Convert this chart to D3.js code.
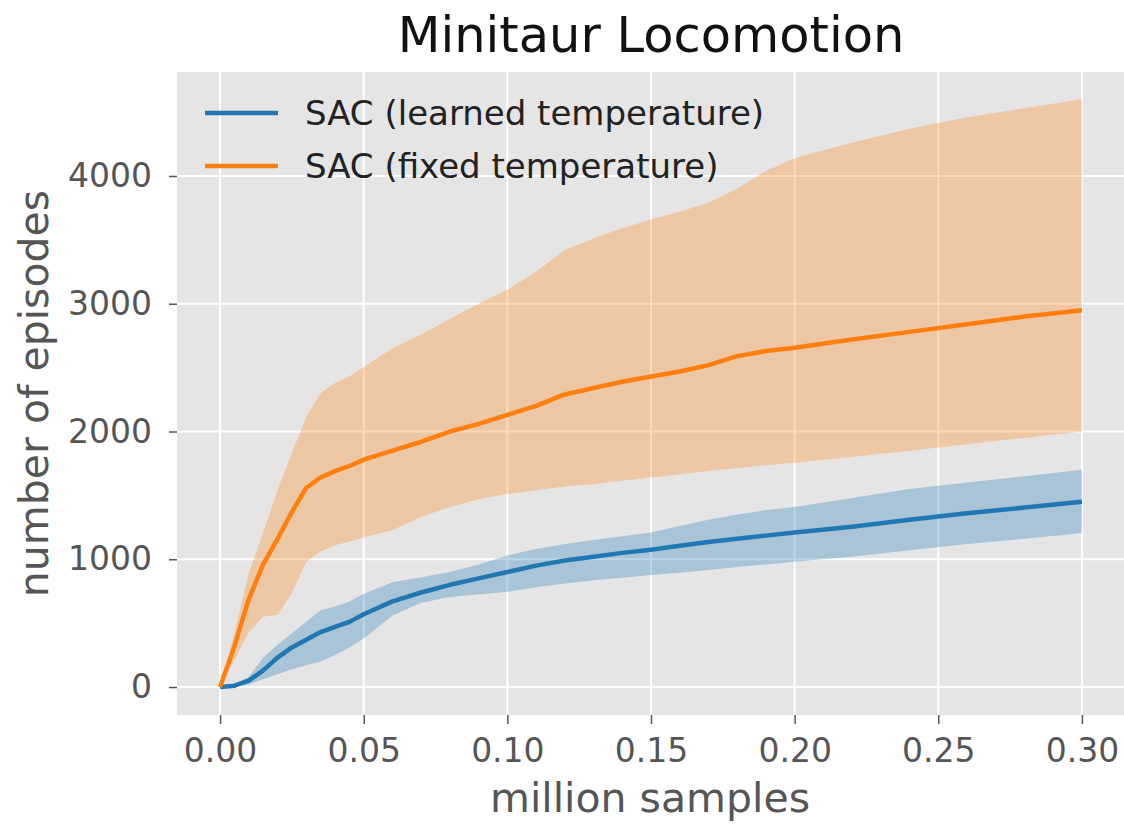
<!doctype html>
<html lang="en">
<head>
  <meta charset="utf-8">
  <title>Minitaur Locomotion</title>
  <script src="https://d3js.org/d3.v7.min.js"></script>
  <style>
    body { margin: 0; background: #fff; font-family: "DejaVu Sans", sans-serif; }
  </style>
</head>
<body>
<svg width="1124" height="827"></svg>
<script>
  // million samples
  var samples = [0, 0.005, 0.01, 0.015, 0.02, 0.025, 0.03, 0.035, 0.04, 0.045, 0.05,
                 0.06, 0.07, 0.08, 0.09, 0.10, 0.11, 0.12, 0.13, 0.14, 0.15,
                 0.16, 0.17, 0.18, 0.19, 0.20, 0.22, 0.24, 0.26, 0.28, 0.30];

  // SAC (learned temperature)
  var learnedMean  = [0, 10, 50, 130, 230, 310, 370, 430, 470, 510, 570,
                      670, 740, 800, 850, 900, 950, 990, 1020, 1050, 1075,
                      1105, 1135, 1160, 1185, 1210, 1255, 1310, 1360, 1405, 1450];
  var learnedUpper = [0, 20, 80, 230, 330, 420, 510, 600, 630, 670, 730,
                      820, 860, 900, 960, 1030, 1080, 1120, 1150, 1180, 1210,
                      1260, 1310, 1350, 1385, 1410, 1480, 1550, 1600, 1650, 1700];
  var learnedLower = [0, 5, 20, 60, 100, 140, 170, 200, 250, 310, 380,
                      560, 660, 705, 725, 745, 780, 810, 835, 855, 877,
                      895, 915, 940, 960, 980, 1020, 1070, 1120, 1160, 1205];

  // SAC (fixed temperature)
  var fixedMean  = [0, 320, 690, 960, 1160, 1370, 1560, 1640, 1690, 1730, 1780,
                    1850, 1920, 2000, 2060, 2130, 2200, 2290, 2340, 2390, 2430,
                    2470, 2520, 2590, 2630, 2655, 2720, 2780, 2840, 2900, 2950];
  var fixedUpper = [0, 420, 890, 1205, 1540, 1830, 2115, 2300, 2380, 2430, 2505,
                    2650, 2760, 2880, 3000, 3110, 3250, 3420, 3510, 3590, 3660,
                    3720, 3790, 3900, 4040, 4140, 4260, 4370, 4460, 4530, 4600];
  var fixedLower = [0, 211, 430, 550, 565, 735, 980, 1060, 1110, 1140, 1170,
                    1230, 1330, 1410, 1470, 1510, 1540, 1570, 1590, 1615, 1640,
                    1665, 1690, 1715, 1735, 1755, 1800, 1850, 1900, 1950, 2000];

  var xTicks = [0, 0.05, 0.10, 0.15, 0.20, 0.25, 0.30];
  var yTicks = [0, 1000, 2000, 3000, 4000];

  var seriesNames = ["SAC (learned temperature)", "SAC (fixed temperature)"];
  var colors = ["#1f77b4", "#ff7f0e"];

  var svg = d3.select("svg");
  var plotL = 177, plotR = 1125, plotT = 72, plotB = 715;

  var x = d3.scaleLinear().domain([-0.015, 0.315]).range([plotL, plotR]);
  var y = d3.scaleLinear().domain([-219, 4814]).range([plotB, plotT]);

  // background
  svg.append("rect")
    .attr("x", plotL).attr("y", plotT)
    .attr("width", plotR - plotL).attr("height", plotB - plotT)
    .attr("fill", "#e5e5e5");

  // grid
  svg.append("g").selectAll("line").data(xTicks).join("line")
    .attr("x1", d => x(d)).attr("x2", d => x(d))
    .attr("y1", plotT).attr("y2", plotB)
    .attr("stroke", "#fff").attr("stroke-width", 2);
  svg.append("g").selectAll("line").data(yTicks).join("line")
    .attr("x1", plotL).attr("x2", plotR)
    .attr("y1", d => y(d)).attr("y2", d => y(d))
    .attr("stroke", "#fff").attr("stroke-width", 2);

  // axes
  var xAxis = svg.append("g")
    .attr("transform", "translate(0," + plotB + ")")
    .call(d3.axisBottom(x).tickValues(xTicks).tickFormat(d3.format(".2f")).tickSize(9).tickPadding(15));
  var yAxis = svg.append("g")
    .attr("transform", "translate(" + plotL + ",0)")
    .call(d3.axisLeft(y).tickValues(yTicks).tickFormat(d3.format("d")).tickSize(8).tickPadding(17));
  [xAxis, yAxis].forEach(function(a) {
    a.select(".domain").remove();
    a.selectAll(".tick line").attr("stroke", "#555").attr("stroke-width", 1.5);
    a.selectAll(".tick text")
      .attr("fill", "#555")
      .style("font-family", "DejaVu Sans")
      .style("font-size", "33px");
  });

  // bands and lines
  var series = [
    { mean: learnedMean, lo: learnedLower, hi: learnedUpper },
    { mean: fixedMean, lo: fixedLower, hi: fixedUpper }
  ];

  var area = d3.area()
    .x(d => x(d.x)).y0(d => y(d.lo)).y1(d => y(d.hi));
  var line = d3.line()
    .x(d => x(d.x)).y(d => y(d.m));

  series.forEach(function(s, i) {
    var pts = samples.map((v, j) => ({ x: v, m: s.mean[j], lo: s.lo[j], hi: s.hi[j] }));
    svg.append("path").datum(pts)
      .attr("d", area)
      .attr("fill", colors[i]).attr("fill-opacity", 0.3);
  });
  series.forEach(function(s, i) {
    var pts = samples.map((v, j) => ({ x: v, m: s.mean[j] }));
    svg.append("path").datum(pts)
      .attr("d", line)
      .attr("fill", "none")
      .attr("stroke", colors[i]).attr("stroke-width", 4.5)
      .attr("stroke-linejoin", "round");
  });

  // legend
  var legend = svg.append("g");
  seriesNames.forEach(function(name, i) {
    var ly = 113 + i * 53;
    legend.append("line")
      .attr("x1", 205).attr("x2", 278).attr("y1", ly).attr("y2", ly)
      .attr("stroke", colors[i]).attr("stroke-width", 4.5);
    legend.append("text")
      .attr("x", 305).attr("y", ly).attr("dy", "0.36em")
      .attr("fill", "#222")
      .style("font-size", "34px")
      .text(name);
  });

  // titles
  svg.append("text")
    .attr("x", 651).attr("y", 52)
    .attr("text-anchor", "middle")
    .attr("fill", "#111")
    .style("font-size", "49.5px")
    .text("Minitaur Locomotion");

  svg.append("text")
    .attr("x", 650).attr("y", 812)
    .attr("text-anchor", "middle")
    .attr("fill", "#555")
    .style("font-size", "41px")
    .text("million samples");

  svg.append("text")
    .attr("transform", "translate(48," + (plotT + plotB) / 2 + ") rotate(-90)")
    .attr("text-anchor", "middle")
    .attr("fill", "#555")
    .style("font-size", "41px")
    .text("number of episodes");
</script>
</body>
</html>
